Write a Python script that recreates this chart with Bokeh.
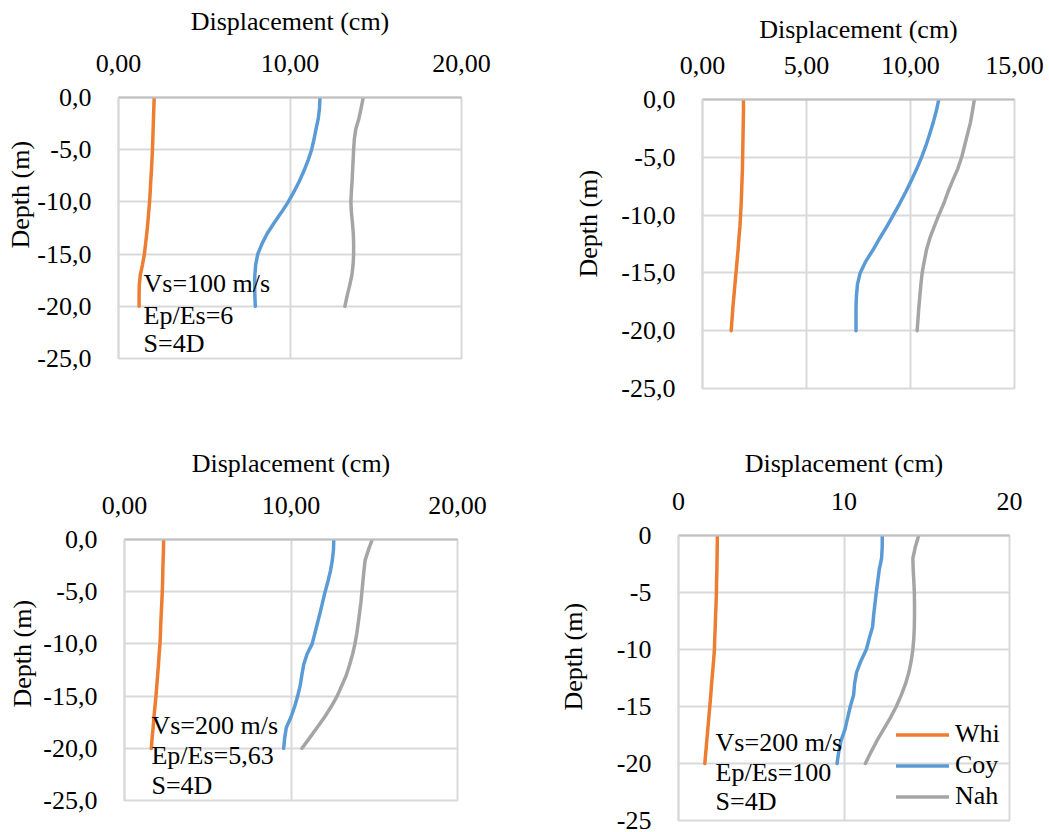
from bokeh.plotting import figure
from bokeh.layouts import column, row
from bokeh.models import FixedTicker, Label, Legend, LegendItem, Range1d, Title
from bokeh.embed import file_html
from bokeh.resources import INLINE

# depth below pile head (m), one reading per metre
depth = [0, -1, -2, -3, -4, -5, -6, -7, -8, -9, -10,
         -11, -12, -13, -14, -15, -16, -17, -18, -19, -20]

# Vs=100 m/s, Ep/Es=6, S=4D
whi_a = [2.08, 2.06, 2.04, 2.02, 2.00, 1.98, 1.95, 1.92, 1.88, 1.85, 1.81,
         1.76, 1.71, 1.65, 1.58, 1.51, 1.40, 1.27, 1.21, 1.20, 1.20]
coy_a = [11.75, 11.72, 11.65, 11.52, 11.40, 11.26, 11.06, 10.82, 10.55, 10.24, 9.90,
         9.50, 9.08, 8.68, 8.37, 8.12, 8.00, 7.95, 7.94, 7.95, 7.98]
nah_a = [14.27, 14.15, 14.02, 13.84, 13.75, 13.71, 13.68, 13.65, 13.62, 13.58, 13.55,
         13.58, 13.64, 13.69, 13.71, 13.71, 13.68, 13.61, 13.48, 13.33, 13.20]

# second case (top right)
whi_b = [1.97, 1.97, 1.96, 1.95, 1.94, 1.93, 1.92, 1.90, 1.88, 1.86, 1.83,
         1.80, 1.75, 1.71, 1.66, 1.61, 1.56, 1.51, 1.46, 1.42, 1.38]
coy_b = [11.36, 11.24, 11.09, 10.92, 10.74, 10.53, 10.30, 10.04, 9.77, 9.48, 9.17,
         8.86, 8.52, 8.20, 7.85, 7.58, 7.45, 7.40, 7.38, 7.38, 7.38]
nah_b = [13.07, 12.98, 12.88, 12.74, 12.60, 12.46, 12.27, 12.03, 11.80, 11.60, 11.36,
         11.14, 10.93, 10.77, 10.66, 10.56, 10.50, 10.45, 10.40, 10.36, 10.32]

# Vs=200 m/s, Ep/Es=5,63, S=4D
whi_c = [2.35, 2.34, 2.32, 2.30, 2.29, 2.27, 2.24, 2.21, 2.18, 2.16, 2.13,
         2.08, 2.04, 1.99, 1.94, 1.89, 1.83, 1.77, 1.72, 1.66, 1.61]
coy_c = [12.57, 12.55, 12.48, 12.37, 12.22, 12.05, 11.90, 11.75, 11.59, 11.43, 11.27,
         10.96, 10.76, 10.65, 10.55, 10.40, 10.22, 10.00, 9.72, 9.62, 9.56]
nah_c = [14.88, 14.65, 14.45, 14.38, 14.32, 14.26, 14.20, 14.12, 14.04, 13.95, 13.84,
         13.70, 13.52, 13.32, 13.05, 12.77, 12.42, 12.02, 11.57, 11.12, 10.66]

# Vs=200 m/s, Ep/Es=100, S=4D
whi_d = [2.35, 2.34, 2.33, 2.32, 2.30, 2.29, 2.27, 2.24, 2.22, 2.19, 2.17,
         2.12, 2.06, 2.00, 1.95, 1.89, 1.83, 1.77, 1.71, 1.65, 1.59]
coy_d = [12.31, 12.31, 12.27, 12.13, 12.04, 11.95, 11.87, 11.79, 11.73, 11.53, 11.35,
         11.02, 10.76, 10.64, 10.58, 10.38, 10.22, 10.06, 9.82, 9.68, 9.58]
nah_d = [14.51, 14.31, 14.16, 14.18, 14.22, 14.25, 14.26, 14.26, 14.25, 14.22, 14.16,
         14.06, 13.92, 13.72, 13.46, 13.16, 12.80, 12.39, 11.99, 11.63, 11.29]

series_names = ["Whi", "Coy", "Nah"]
colors = ["#ED7D31", "#5B9BD5", "#A5A5A5"]

y_ticks = [-25, -20, -15, -10, -5, 0]
y_labels_dec = ["-25,0", "-20,0", "-15,0", "-10,0", "-5,0", "0,0"]
y_labels_int = ["-25", "-20", "-15", "-10", "-5", "0"]

x_ticks_20 = [0, 10, 20]
x_labels_20 = ["0,00", "10,00", "20,00"]
x_ticks_15 = [0, 5, 10, 15]
x_labels_15 = ["0,00", "5,00", "10,00", "15,00"]
x_labels_int = ["0", "10", "20"]

FONT = "Liberation Serif"
FS = "26px"
GRID = "#D9D9D9"


def panel(whi, coy, nah, xmax, xt, xl, yl, w, h, left, right, top, bottom,
          depth_standoff, depth_offset, title_standoff, notes=None, legend=None):
    p = figure(width=w, height=h, x_range=Range1d(0, xmax), y_range=Range1d(-25, 0),
               x_axis_location="above", output_backend="svg", toolbar_location=None,
               min_border_left=left, min_border_right=right,
               min_border_top=top, min_border_bottom=bottom)
    p.frame_align = False
    p.background_fill_color = "white"
    p.border_fill_color = "white"
    p.outline_line_color = GRID
    p.outline_line_width = 2

    p.xaxis.ticker = FixedTicker(ticks=xt)
    p.xaxis.major_label_overrides = {t: s for t, s in zip(xt, xl)}
    p.yaxis.ticker = FixedTicker(ticks=y_ticks)
    p.yaxis.major_label_overrides = {t: s for t, s in zip(y_ticks, yl)}
    for ax in (p.xaxis, p.yaxis):
        ax.major_tick_line_color = None
        ax.minor_tick_line_color = None
        ax.major_label_text_font = FONT
        ax.major_label_text_font_size = FS
        ax.major_label_text_color = "black"
    p.xaxis.axis_line_color = "#BFBFBF"
    p.xaxis.axis_line_width = 2
    p.yaxis.axis_line_color = GRID
    p.yaxis.axis_line_width = 2
    p.xaxis.major_label_standoff = 20
    p.yaxis.major_label_standoff = 21
    p.xaxis.axis_label = "Displacement (cm)"
    p.xaxis.axis_label_text_font = FONT
    p.xaxis.axis_label_text_font_size = FS
    p.xaxis.axis_label_text_font_style = "normal"
    p.xaxis.axis_label_text_color = "black"
    p.xaxis.axis_label_standoff = title_standoff

    p.xgrid.ticker = FixedTicker(ticks=xt)
    p.ygrid.ticker = FixedTicker(ticks=y_ticks)
    p.grid.grid_line_color = GRID
    p.grid.grid_line_width = 2

    # vertical axis title, sitting a little above the middle of the frame
    p.add_layout(Title(text="Depth (m)", align="left", offset=depth_offset,
                       standoff=depth_standoff, text_font=FONT, text_font_size=FS,
                       text_font_style="normal", text_color="black"), "left")

    renderers = []
    for vals, c in zip((whi, coy, nah), colors):
        r = p.line(vals, depth, line_color=c, line_width=3.5, line_cap="round",
                   line_join="round")
        renderers.append(r)

    if notes:
        nx, nys, lines = notes
        for ny, t in zip(nys, lines):
            p.add_layout(Label(x=nx, y=ny, text=t, text_align="left",
                               text_baseline="middle", text_font=FONT,
                               text_font_size=FS, text_color="black"))

    if legend:
        items = [LegendItem(label=n, renderers=[r]) for n, r in zip(series_names, renderers)]
        lg = Legend(items=items, location=legend, border_line_color=None,
                    background_fill_alpha=0, padding=0, margin=0, spacing=1,
                    glyph_width=53, glyph_height=29, label_height=29,
                    label_standoff=6, label_text_font=FONT, label_text_font_size=FS,
                    label_text_color="black")
        p.add_layout(lg)
    return p


p1 = panel(whi_a, coy_a, nah_a, 20, x_ticks_20, x_labels_20, y_labels_dec,
           540, 440, 118, 79, 97, 82, 0, 110, 16,
           notes=(1.46, [-17.8, -20.9, -23.6], ["Vs=100 m/s", "Ep/Es=6", "S=4D"]))
p2 = panel(whi_b, coy_b, nah_b, 15, x_ticks_15, x_labels_15, y_labels_dec,
           509, 440, 162, 35, 99, 52, 32, 111, 10)
p3 = panel(whi_c, coy_c, nah_c, 20, x_ticks_20, x_labels_20, y_labels_dec,
           528, 392, 124, 71, 99, 32, 7, 93, 16,
           notes=(1.62, [-17.8, -20.7, -23.6], ["Vs=200 m/s", "Ep/Es=5,63", "S=4D"]))
p4 = panel(whi_d, coy_d, nah_d, 20, x_ticks_20, x_labels_int, y_labels_int,
           521, 392, 150, 40, 95, 12, 51, 110, 12,
           notes=(2.24, [-18.2, -20.8, -23.3], ["Vs=200 m/s", "Ep/Es=100", "S=4D"]),
           legend=(218, 9))

layout = column(row(p1, p2), row(p3, p4))
open("out.html", "w").write(file_html(layout, INLINE))
